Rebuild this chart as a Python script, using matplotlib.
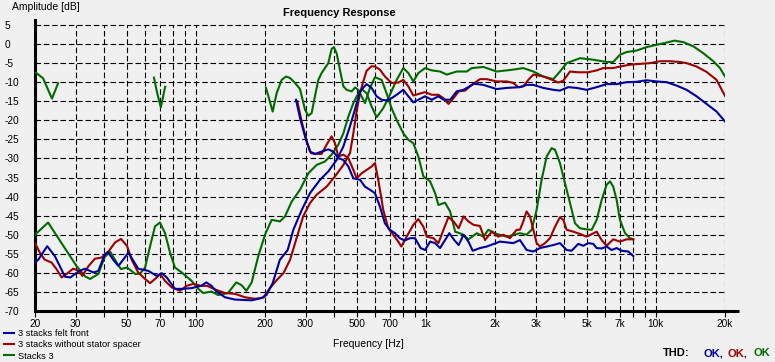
import matplotlib
matplotlib.use('Agg')
import matplotlib.pyplot as plt
from matplotlib.lines import Line2D

# --- data (Hz, dB) ---
blue_hi_f = [20, 20.7, 22.6, 24.4, 27.0, 28.5, 31.1, 33.0, 35.9, 37.7, 40.2, 41.5, 43.7, 46.1, 48.4,
             50.9, 53.5, 56.2, 62.3, 67.7, 71.2, 74.8, 81.2, 86.9, 95.9, 105.6, 111.2, 117, 123.1, 134,
             148, 175, 193.3, 203, 216, 232, 251, 265.6, 289, 313.8, 347, 377, 409.6, 438, 468, 492,
             517.7, 553, 581.7, 611.5, 642.8, 675.5, 710, 747, 798.5, 840, 883, 928.5, 993, 1062, 1135,
             1194, 1276, 1364, 1460, 1621, 1780, 2033, 2247, 2567, 2744, 2936, 3243, 3586, 3832, 4165,
             4528, 5007, 5535, 6113, 6762, 7466, 8250, 9116, 10070, 11158, 12335, 13612, 15049, 16631,
             18382, 20000]
blue_hi_db = [-57.3, -56.5, -53.0, -55.6, -61.0, -61.2, -59.5, -58.9, -59.9, -59.5, -55.2, -54.5, -56.5,
              -58.2, -56.5, -54.7, -56.8, -58.9, -59.5, -60.8, -60.1, -61.2, -64.2, -64.2, -64.0, -63.4,
              -62.5, -63.4, -64.9, -66.4, -67.0, -67.2, -66.6, -65.8, -62.7, -56.6, -54.0, -48.7, -43.5,
              -39.1, -35.6, -33.4, -30.4, -26.9, -21.6, -17.2, -12.4, -10.5, -11.5, -13.7, -14.6, -14.8,
              -14.2, -13.3, -12.0, -13.7, -15.3, -14.6, -13.7, -14.6, -13.7, -14.6, -14.6, -12.4, -12.0,
              -10.4, -10.7, -11.8, -11.5, -11.3, -10.7, -10.7, -11.5, -12.0, -12.2, -11.3, -11.5, -12.0,
              -11.3, -10.5, -10.5, -10.0, -9.9, -9.5, -9.8, -10.0, -10.9, -12.0, -13.7, -15.7, -17.7, -20.3]

blue_lo_f = [272.8, 284, 298.5, 313.8, 329.7, 352.5, 376.9, 396, 416.5, 438.3, 460.7, 484.3, 517.7,
             544.2, 572, 601.3, 632, 664.4, 698.4, 735, 770, 810, 854, 898, 950, 993, 1044, 1098, 1154,
             1213, 1266, 1330, 1390, 1460, 1533, 1600, 1720, 1840, 2102, 2402, 2567, 2744, 2936, 3137,
             3353, 3586, 3832, 4098, 4306, 4604, 4840, 5082, 5352, 5535, 5818, 6113, 6427, 6757, 7103,
             7593, 7986]
blue_lo_db = [-14.6, -19.4, -24.2, -28.2, -28.8, -28.2, -27.6, -28.2, -29.9, -30.4, -32.1, -35.2, -35.6,
              -37.4, -38.2, -39.1, -42.6, -47.0, -48.7, -49.6, -50.9, -51.5, -50.9, -50.9, -53.5, -54.0,
              -51.8, -52.2, -53.5, -51.4, -49.6, -51.4, -52.7, -50.0, -51.8, -54.2, -53.5, -53.1, -51.8,
              -52.2, -51.4, -54.0, -54.4, -53.5, -53.1, -52.7, -52.2, -54.0, -54.2, -52.4, -52.9, -52.2,
              -52.4, -53.5, -53.6, -53.1, -54.0, -53.5, -54.2, -54.4, -55.6]

red_hi_f = [20, 21, 22, 23.6, 24.8, 26.1, 27.4, 29.3, 31.1, 32.1, 34.2, 36.4, 38.9, 41.5, 44.6, 47.3,
            50.3, 52.6, 56.2, 60.2, 63.3, 67.7, 70, 73.5, 78.6, 85.4, 91.3, 97.6, 105.6, 112, 123.1, 134,
            148, 163.6, 181, 196.7, 210, 224.7, 240.5, 256.9, 274.4, 293, 313.8, 335.3, 370.6, 403,
            438.3, 468.4, 484.3, 500.8, 517.7, 535, 553.3, 581.7, 601.3, 632, 664.4, 710, 759, 798.5,
            840, 883, 928.5, 993, 1062, 1135, 1194, 1255, 1320, 1390, 1482, 1585, 1720, 1840, 2033,
            2247, 2402, 2525, 2655, 2791, 2936, 3243, 3586, 3770, 3962, 4238, 4600, 5082, 5535, 5912,
            6533, 6985, 7725, 8534, 9432, 10426, 11523, 12736, 13612, 15050, 16630, 18380, 20000]
red_hi_db = [-52.2, -54.7, -56.5, -57.3, -59.0, -61.2, -60.3, -58.9, -59.5, -60.8, -58.2, -56.3, -56.0,
             -54.6, -52.0, -51.1, -53.0, -56.5, -59.9, -61.6, -62.7, -61.2, -60.3, -62.1, -63.8, -64.7,
             -63.4, -62.9, -63.4, -63.4, -64.5, -65.3, -65.5, -66.4, -66.8, -66.5, -64.0, -61.9, -60.1,
             -56.6, -50.9, -45.2, -41.7, -39.5, -37.4, -34.7, -31.7, -28.6, -23.4, -17.5, -13.0, -9.8,
             -7.0, -5.8, -5.9, -6.7, -8.5, -10.2, -10.1, -9.4, -11.1, -13.5, -13.1, -12.6, -13.3, -13.3,
             -14.2, -15.7, -14.2, -12.4, -12.2, -10.7, -9.2, -9.2, -9.8, -9.8, -10.2, -11.3, -11.1, -9.4,
             -8.0, -8.5, -9.5, -10.1, -9.6, -7.2, -7.4, -7.4, -6.9, -6.3, -6.3, -5.9, -5.4, -5.2, -5.0,
             -4.5, -4.5, -4.7, -5.0, -5.9, -7.3, -9.4, -13.6]

red_lo_f = [276.4, 288.8, 303.6, 316.8, 329.7, 352.5, 370.6, 389.6, 403, 416.5, 438.3, 460.7, 484.3,
            500.8, 526.3, 553.3, 581.7, 601.3, 621.5, 653.5, 687, 722, 759, 783, 826, 883, 928.5, 976.5,
            1010, 1080, 1135, 1194, 1255, 1320, 1390, 1460, 1533, 1612, 1720, 1810, 1935, 2065, 2174,
            2324, 2483, 2567, 2655, 2744, 2840, 2936, 3034, 3137, 3300, 3468, 3647, 3832, 3962, 4098,
            4386, 4683, 5007, 5535, 5818, 6113, 6533, 6985, 7466, 7986]
red_lo_db = [-15.0, -20.3, -25.5, -28.6, -28.8, -28.8, -26.4, -24.2, -26.0, -29.5, -29.0, -29.9, -33.0,
             -35.2, -33.9, -33.0, -32.1, -31.2, -35.6, -43.5, -48.3, -50.0, -51.8, -53.1, -50.5, -47.4,
             -45.9, -47.9, -50.5, -50.9, -52.2, -48.7, -45.4, -46.5, -48.3, -45.2, -46.5, -47.4, -47.7,
             -51.4, -49.2, -50.5, -50.0, -50.9, -48.7, -48.7, -46.5, -43.9, -45.2, -48.7, -52.2, -53.1,
             -52.2, -50.9, -47.9, -45.4, -46.1, -48.7, -49.2, -49.8, -50.5, -49.2, -51.4, -52.9, -51.2,
             -51.8, -51.2, -51.2]

# green: two short pieces at low frequency, then two full traces
green_p1_f = [20.2, 21.7, 23.7, 25.2]
green_p1_db = [-7.5, -9.0, -14.3, -10.3]
green_p2_f = [65.8, 68.0, 70.5, 73.6]
green_p2_db = [-8.8, -12.9, -16.6, -11.2]

green_a_f = [20, 22.8, 30.3, 33.0, 34.7, 37.7, 40.2, 42.5, 45.3, 47.3, 50.3, 54.6, 57.3, 60.2, 63.3,
             66.5, 69.9, 73.5, 77.3, 81.2, 86.9, 95.9, 102.6, 107.8, 117, 125, 138, 150, 158, 166, 175,
             187, 200, 213.8, 232.4, 244.3, 261.3, 284, 308.5, 335.3, 364.5, 389.6, 416.5, 438.3, 460.7,
             484.3, 500.8, 526.3, 553.3, 581.7, 611.5, 653.5, 698.4, 747, 798.5, 840, 883, 928.5, 993,
             1062, 1154, 1234, 1364, 1508, 1585, 1780, 2033, 2402, 2655, 2936, 3243, 3586, 3832, 4098,
             4683, 5352, 6113, 6533, 6985, 7466, 8250, 9116, 10070, 11158, 12066, 13184, 14567, 16100,
             17790, 19020, 20000]
green_a_db = [-50.0, -46.8, -58.2, -60.9, -61.6, -60.3, -55.8, -54.5, -57.3, -59.0, -58.6, -60.3, -60.2,
              -58.6, -53.0, -47.8, -46.8, -49.6, -54.7, -58.6, -59.9, -62.1, -64.2, -65.3, -64.9, -65.8,
              -65.3, -62.5, -63.2, -64.7, -62.5, -55.6, -50.0, -46.1, -46.5, -45.2, -41.3, -38.2, -33.9,
              -31.7, -30.8, -29.0, -26.4, -23.4, -19.0, -15.5, -13.7, -11.8, -12.9, -16.4, -19.2, -16.8,
              -13.3, -9.4, -6.3, -7.6, -9.8, -7.6, -6.3, -6.9, -7.2, -8.0, -7.2, -7.2, -6.3, -6.0, -7.2,
              -6.7, -6.3, -7.2, -8.5, -9.2, -7.2, -5.0, -3.7, -4.1, -4.7, -4.7, -2.8, -2.1, -1.7, -0.8,
              -0.2, 0.4, 0.9, 0.5, -0.6, -2.4, -4.5, -6.3, -8.5]

green_b_f = [202, 216, 224.7, 236.3, 246.8, 256.9, 270, 284, 298.5, 308.5, 319, 329.7, 341, 352.5, 364.5,
             376.9, 389.6, 398.7, 409.6, 423.4, 438.3, 453, 476.4, 492.4, 509, 544.2, 572, 601.3, 642.8,
             675.5, 710, 747, 798.5, 840, 883, 928.5, 976.5, 1044, 1098, 1135, 1213, 1276, 1342, 1434,
             1533, 1668, 1780, 1871, 2033, 2248, 2567, 2744, 2886, 3034, 3189, 3353, 3525, 3647, 3832,
             4031, 4238, 4455, 4683, 5007, 5265, 5535, 5818, 6113, 6325, 6533, 6762, 6985, 7351, 7725,
             7986]
green_b_db = [-11.5, -17.7, -12.9, -9.4, -8.5, -8.9, -10.2, -11.8, -17.2, -18.8, -18.1, -13.7, -9.4,
              -7.6, -6.3, -5.0, -1.3, -0.8, -2.4, -6.7, -11.1, -12.0, -12.4, -11.4, -12.0, -15.5, -11.5,
              -8.7, -9.4, -12.9, -16.8, -19.9, -23.4, -25.1, -26.0, -29.5, -34.7, -36.0, -39.1, -42.2,
              -41.6, -43.9, -49.2, -49.8, -51.2, -49.6, -50.5, -48.7, -49.8, -50.5, -49.6, -50.0, -48.7,
              -43.5, -35.6, -29.5, -27.3, -27.7, -31.2, -36.5, -41.7, -47.0, -48.3, -48.6, -48.7, -46.1,
              -40.9, -36.9, -36.0, -37.4, -40.9, -46.1, -49.6, -50.9, -51.2]

series_names = ['3 stacks felt front', '3 stacks without stator spacer', 'Stacks 3']

grid_freqs = [20, 30, 40, 50, 60, 70, 80, 90, 100, 200, 300, 400, 500, 600, 700, 800, 900,
              1000, 2000, 3000, 4000, 5000, 6000, 7000, 8000, 9000, 10000, 20000]
x_labels = {20: '20', 30: '30', 50: '50', 70: '70', 100: '100', 200: '200', 300: '300', 500: '500',
            700: '700', 1000: '1k', 2000: '2k', 3000: '3k', 5000: '5k', 7000: '7k', 10000: '10k',
            20000: '20k'}
y_ticks = list(range(-70, 10, 5))

# --- style ---
plt.rcParams['font.family'] = ['Liberation Sans', 'DejaVu Sans']
plt.rcParams['lines.scale_dashes'] = False

BG = '#F0F0F0'
BLUE = '#00009C'
RED = '#9C0000'
GREEN = '#006C00'
DASH = (0, (4, 2))

W, H = 775, 362
fig = plt.figure(figsize=(W / 100, H / 100), dpi=100, facecolor=BG)
ax = fig.add_axes([35 / W, 51 / H, 690 / W, 291 / H])
ax.set_facecolor(BG)
ax.set_xscale('log')
ax.set_xlim(20, 20000)
ax.set_ylim(-70, 6.31)

ax.set_xticks(grid_freqs)
ax.set_xticklabels([x_labels.get(f, '') for f in grid_freqs])
ax.xaxis.set_minor_locator(matplotlib.ticker.NullLocator())
ax.set_yticks(y_ticks)
ax.set_yticklabels([str(v) for v in y_ticks])

# grid
ax.vlines(grid_freqs, -70, 5, colors='black', linestyles=DASH, linewidth=0.8, zorder=1)
ax.hlines(y_ticks, 20, 20000, colors='black', linestyles=DASH, linewidth=0.8, zorder=1)

ax.tick_params(axis='x', length=4, width=0.8, color='black', pad=2, labelsize=7.3)
ax.tick_params(axis='y', length=0, pad=21.6, labelsize=7.3)
for lab in ax.get_yticklabels():
    lab.set_horizontalalignment('left')

for s in ['top', 'right']:
    ax.spines[s].set_visible(False)
for s in ['left', 'bottom']:
    ax.spines[s].set_linewidth(2.2)
ax.plot([1, 1.0203], [0, 0], transform=ax.transAxes, color='black', lw=2.2,
        clip_on=False, solid_capstyle='butt')

# curves
lw = 1.5
for f, d in [(green_p1_f, green_p1_db), (green_p2_f, green_p2_db),
             (green_a_f, green_a_db), (green_b_f, green_b_db)]:
    ax.plot(f, d, color=GREEN, lw=lw, zorder=3)
ax.plot(red_hi_f, red_hi_db, color=RED, lw=lw, zorder=4)
ax.plot(red_lo_f, red_lo_db, color=RED, lw=lw, zorder=4)
ax.plot(blue_hi_f, blue_hi_db, color=BLUE, lw=lw, zorder=5)
ax.plot(blue_lo_f, blue_lo_db, color=BLUE, lw=lw, zorder=5)

# texts
fig.text(339 / W, 1 - 12.5 / H, 'Frequency Response', ha='center', va='center',
         fontsize=8, fontweight='bold')
fig.text(12 / W, 1 - 7 / H, 'Amplitude [dB]', ha='left', va='center', fontsize=7.5)
fig.text(368 / W, 1 - 344 / H, 'Frequency [Hz]', ha='center', va='center', fontsize=7.5)

thd_y = 1 - 353 / H
fig.text(663 / W, thd_y, 'THD:', ha='left', va='center', fontsize=8, fontweight='bold')
fig.text(703 / W, thd_y, 'OK,', ha='left', va='center', fontsize=8, fontweight='bold', color=BLUE)
fig.text(727 / W, thd_y, 'OK,', ha='left', va='center', fontsize=8, fontweight='bold', color=RED)
fig.text(753 / W, thd_y, 'OK', ha='left', va='center', fontsize=8, fontweight='bold', color=GREEN)

handles = [Line2D([], [], color=c, lw=1.5) for c in (BLUE, RED, GREEN)]
fig.legend(handles, series_names, loc='upper left', bbox_to_anchor=(4 / W, 1 - 329 / H),
           frameon=False, fontsize=6.7, handlelength=1.1, handletextpad=0.4,
           labelspacing=0.25, borderpad=0, borderaxespad=0)

fig.savefig('out.png', dpi=100, facecolor=BG)
